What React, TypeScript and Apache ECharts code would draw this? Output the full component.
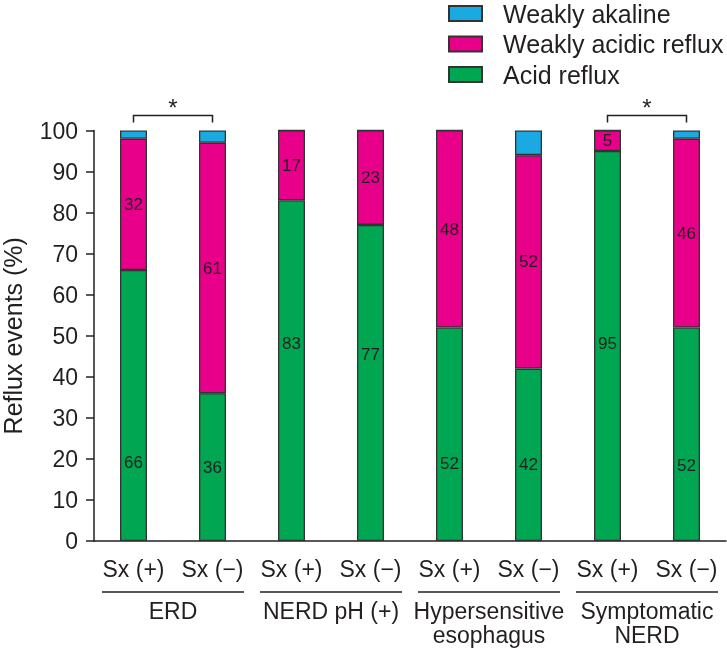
import React, { useEffect, useRef } from "react";
import * as echarts from "echarts";

const categories = ["Sx (+)", "Sx (−)", "Sx (+)", "Sx (−)", "Sx (+)", "Sx (−)", "Sx (+)", "Sx (−)"];
const groups = ["ERD", "NERD pH (+)", "Hypersensitive\nesophagus", "Symptomatic\nNERD"];
const groupSpans = [[0, 1], [2, 3], [4, 5], [6, 7]];
const acidReflux = [66, 36, 83, 77, 52, 42, 95, 52];
const weaklyAcidic = [32, 61, 17, 23, 48, 52, 5, 46];
const weaklyAlkaline = [2, 3, 0, 0, 0, 6, 0, 2];
const significantPairs = [[0, 1], [6, 7]];
const yMin = 0;
const yMax = 100;
const yInterval = 10;

// label placement style (pixels) for the acid reflux numbers
const acidLabelOffsetY = [57, 0, -27, -28, 29, 10, -3, 31];

const FONT = "'Liberation Sans', Arial, Helvetica, sans-serif";
const DARK = "#231f20";
const COLORS = { alk: "#1ba9e1", acidic: "#e8008a", acid: "#00a651" };

export default function App() {
  const ref = useRef<HTMLDivElement>(null);
  useEffect(() => {
    if (!ref.current) return;
    const chart = echarts.init(ref.current, null, { renderer: "svg" });
    const itemBorder = { borderColor: "#333", borderWidth: 1.3 };
    const labelFmt = (p: any) => (p.value > 0 ? String(p.value) : "");
    const option: any = {
      animation: false,
      textStyle: { fontFamily: FONT },
      legend: {
        orient: "vertical",
        left: 448,
        top: 1,
        padding: 0,
        icon: "rect",
        itemWidth: 33,
        itemHeight: 15,
        itemGap: 5.5,
        data: ["Weakly akaline", "Weakly acidic reflux", "Acid reflux"],
        textStyle: { fontSize: 25, color: DARK, padding: [0, 0, 0, 16], fontFamily: FONT },
      },
      grid: { left: 94, right: 1, top: 130.5, bottom: 107, outerBoundsMode: "none", containLabel: false },
      xAxis: [
        {
          type: "category",
          data: categories,
          axisLine: { lineStyle: { color: DARK, width: 1.5 } },
          axisTick: { length: 9, lineStyle: { color: DARK, width: 1.5 } },
          axisLabel: { interval: 0, fontSize: 23, color: DARK, margin: 16, fontFamily: FONT },
        },
        {
          type: "category",
          data: groups,
          position: "bottom",
          axisLine: { show: false },
          axisTick: { show: false },
          axisLabel: { interval: 0, fontSize: 23, color: DARK, margin: 58, lineHeight: 24, fontFamily: FONT },
        },
      ],
      yAxis: {
        type: "value",
        min: yMin,
        max: yMax,
        interval: yInterval,
        name: "Reflux events (%)",
        nameLocation: "middle",
        nameGap: 69,
        nameTextStyle: { fontSize: 25, color: DARK, fontFamily: FONT },
        splitLine: { show: false },
        axisLine: { show: true, lineStyle: { color: DARK, width: 1.5 } },
        axisTick: { show: true, length: 8, lineStyle: { color: DARK, width: 1.5 } },
        axisLabel: { fontSize: 23, color: DARK, margin: 16, fontFamily: FONT },
      },
      series: [
        {
          name: "Acid reflux",
          type: "bar",
          stack: "total",
          barWidth: 27,
          itemStyle: { color: COLORS.acid, ...itemBorder },
          label: { show: true, position: "inside", fontSize: 17, color: DARK, fontFamily: FONT, formatter: labelFmt },
          data: acidReflux.map((v, i) => ({ value: v, label: { offset: [0, acidLabelOffsetY[i]] } })),
        },
        {
          name: "Weakly acidic reflux",
          type: "bar",
          stack: "total",
          barWidth: 27,
          itemStyle: { color: COLORS.acidic, ...itemBorder },
          label: { show: true, position: "inside", fontSize: 17, color: DARK, fontFamily: FONT, formatter: labelFmt },
          data: weaklyAcidic,
        },
        {
          name: "Weakly akaline",
          type: "bar",
          stack: "total",
          barWidth: 27,
          itemStyle: { color: COLORS.alk, ...itemBorder },
          data: weaklyAlkaline,
        },
        {
          type: "custom",
          silent: true,
          clip: false,
          z: 10,
          data: significantPairs,
          renderItem: (params: any, api: any) => {
            const a = api.coord([api.value(0), yMax]);
            const b = api.coord([api.value(1), yMax]);
            const yTop = a[1] - 15;
            const yLeg = a[1] - 8;
            return {
              type: "group",
              children: [
                {
                  type: "polyline",
                  shape: { points: [[a[0], yLeg], [a[0], yTop], [b[0], yTop], [b[0], yLeg]] },
                  style: { stroke: DARK, lineWidth: 1.5, fill: "none" },
                },
                {
                  type: "text",
                  x: (a[0] + b[0]) / 2,
                  y: yTop + 4,
                  style: { text: "*", fontSize: 24, fill: DARK, align: "center", verticalAlign: "bottom", fontFamily: FONT },
                },
              ],
            };
          },
        },
        {
          type: "custom",
          silent: true,
          clip: false,
          z: 10,
          data: groupSpans,
          renderItem: (params: any, api: any) => {
            const a = api.coord([api.value(0), yMin]);
            const b = api.coord([api.value(1), yMin]);
            const bw = api.size([1, 0])[0];
            const y = a[1] + 51;
            return {
              type: "line",
              shape: { x1: a[0] - bw / 2 + 8, y1: y, x2: b[0] + bw / 2 - 8, y2: y },
              style: { stroke: DARK, lineWidth: 1.5 },
            };
          },
        },
      ],
    };
    chart.setOption(option);
    return () => chart.dispose();
  }, []);
  return <div ref={ref} style={{ position: "fixed", left: 0, top: 0, width: 727, height: 648 }} />;
}
